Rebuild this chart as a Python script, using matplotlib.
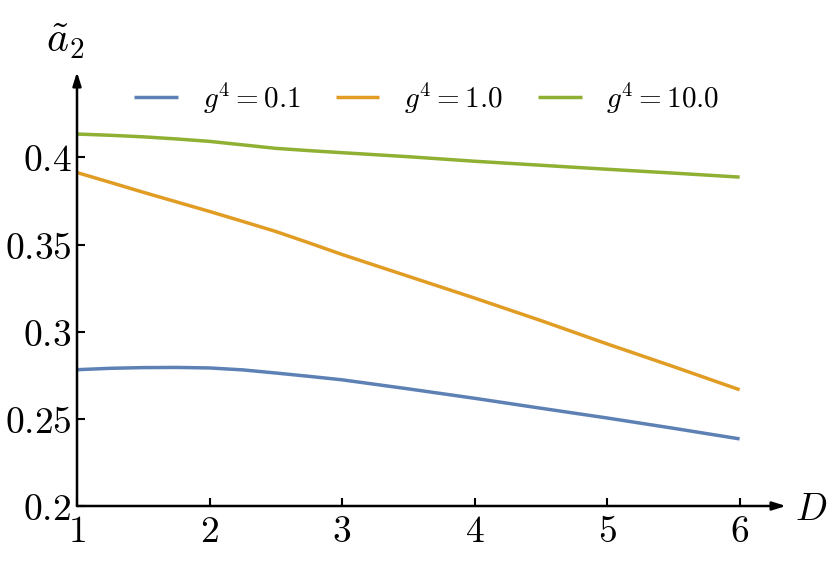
import numpy as np
import matplotlib
matplotlib.use("Agg")
import matplotlib.pyplot as plt

# values
D = [1.0, 1.25, 1.5, 1.75, 2.0, 2.25, 2.5, 2.75, 3.0, 3.5, 4.0, 4.5, 5.0, 5.5, 6.0]
a2_g01 = [0.2782, 0.2790, 0.2794, 0.2795, 0.2792, 0.2781, 0.2763, 0.2744,
          0.2724, 0.2672, 0.2618, 0.2561, 0.2505, 0.2446, 0.2385]
a2_g1 = [0.3913, 0.3857, 0.3800, 0.3745, 0.3690, 0.3633, 0.3575, 0.3510,
         0.3443, 0.3318, 0.3193, 0.3064, 0.2930, 0.2800, 0.2667]
a2_g10 = [0.4134, 0.4127, 0.4118, 0.4106, 0.4092, 0.4072, 0.4052, 0.4039,
          0.4027, 0.4004, 0.3978, 0.3955, 0.3932, 0.3910, 0.3887]
labels = [r"$g^4 = 0.1$", r"$g^4 = 1.0$", r"$g^4 = 10.0$"]
colors = ["#5E81B5", "#E19C24", "#8FB032"]

xticks = [1, 2, 3, 4, 5, 6]
yticks = [0.2, 0.25, 0.3, 0.35, 0.4]

plt.rcParams.update({"mathtext.fontset": "cm", "font.family": "serif"})

fig = plt.figure(figsize=(8.3, 5.74), dpi=100)
ax = fig.add_axes([77 / 830, 68 / 574, 709 / 830, 434 / 574])

for y, lab, c in zip([a2_g01, a2_g1, a2_g10], labels, colors):
    ax.plot(D, y, color=c, lw=2.5, label=lab, solid_capstyle="butt")

ax.set_xlim(1, 6.35)
ax.set_ylim(0.2, 0.449)

for s in ax.spines.values():
    s.set_visible(False)

# axes with arrow heads
arrow = dict(arrowstyle="-|>,head_length=0.8,head_width=0.25", lw=1.8, color="k",
             shrinkA=0, shrinkB=0)
ax.annotate("", xy=(1, 0), xytext=(0, 0), xycoords="axes fraction",
            arrowprops=arrow, annotation_clip=False)
ax.annotate("", xy=(0, 1), xytext=(0, 0), xycoords="axes fraction",
            arrowprops=arrow, annotation_clip=False)

ax.set_xticks(xticks, labels=[f"${t}$" for t in xticks])
ax.set_yticks(yticks, labels=[f"${t:g}$" for t in yticks])
ax.tick_params(direction="in", length=6, width=1.5, labelsize=27)
ax.tick_params(axis="x", pad=6)
ax.tick_params(axis="y", pad=4)

fig.text(65 / 830, 1 - 40 / 574, r"$\tilde{a}_2$", fontsize=30, ha="center", va="center")
fig.text(811 / 830, 1 - 510 / 574, r"$D$", fontsize=27, ha="center", va="center")

fig.legend(loc="center", bbox_to_anchor=(427 / 830, 1 - 98 / 574), ncol=3,
           frameon=False, fontsize=21, handlelength=1.5, handletextpad=0.85,
           columnspacing=1.2)

fig.savefig("out.png", dpi=100)
